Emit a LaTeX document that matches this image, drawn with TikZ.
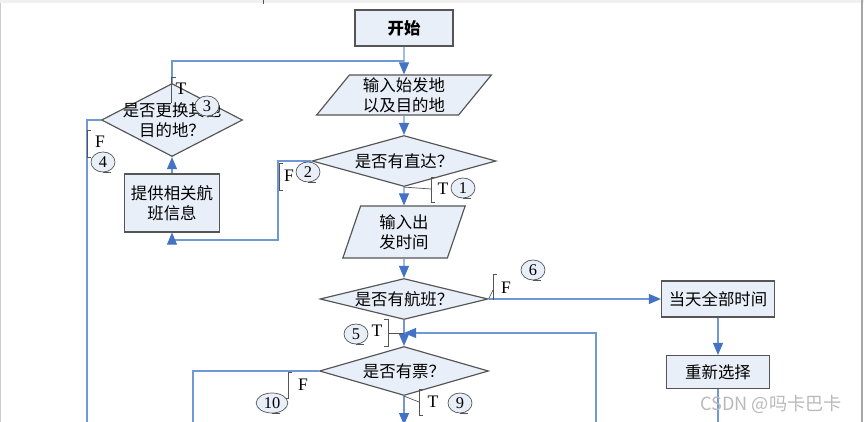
\documentclass[tikz,border=0pt]{standalone}
\usepackage{fontspec}
\setmainfont{Liberation Serif}
\newfontfamily\cjk{Noto Sans CJK SC}
\usetikzlibrary{arrows.meta,shapes.geometric,calc}
\definecolor{pale}{HTML}{E9EFF8}
\definecolor{edge}{HTML}{555555}
\definecolor{flow}{HTML}{6F98D6}
\definecolor{tip}{HTML}{4472C4}
\newcommand\numtag[3]{\node[num] (#1) at (#2) {#3}; \draw[brk] (#1.south) -- ++(8,0);}

\begin{document}
\begin{tikzpicture}[x=0.03cm, y=-0.03cm, every node/.style={font=\cjk\fontsize{14}{17}\selectfont}, box/.style={draw=edge, line width=1pt, fill=pale, align=center, inner sep=0pt}, decide/.style={box, diamond, aspect=3.5}, io/.style={box, trapezium, trapezium stretches=true}, arr/.style={flow, line width=0.9pt, -{Triangle[length=3.6mm, width=3mm, color=tip]}}, wire/.style={flow, line width=0.9pt}, brk/.style={edge, line width=0.6pt}, num/.style={ellipse, draw=edge, fill=pale, line width=0.6pt, inner sep=0pt, minimum width=0.72cm, minimum height=0.6cm, font=\rmfamily\fontsize{14}{16}\selectfont}, tf/.style={inner sep=0pt, font=\rmfamily\fontsize{15}{17}\selectfont}]
\clip (0,0) rectangle (864,422);
% page edges
\fill[gray!12] (0,0) rectangle (864,3);
\draw[gray!70, line width=1.5pt] (862,0) -- (862,422);
\draw[gray!40, line width=0.4pt] (0.5,3) -- (0.5,422);
\draw[edge, line width=0.6pt] (263,0) -- (263,4);
% main column
\node[box, minimum width=2.94cm, minimum height=1.08cm, font=\cjk\bfseries\fontsize{14}{17}\selectfont] (start) at (404,28) {开始};
\node[io, trapezium left angle=55, trapezium right angle=125, minimum width=5.25cm, minimum height=1.2cm] (route) at (404,95) {输入始发地\\以及目的地};
\node[decide, aspect=3.6, minimum width=5.52cm, minimum height=1.53cm] (direct) at (404,161) {是否有直达？};
\node[io, trapezium left angle=74, trapezium right angle=106, minimum width=3.69cm, minimum height=1.56cm] (time) at (404,232) {输入出\\发时间};
\node[decide, aspect=4.1, minimum width=5.04cm, minimum height=1.23cm] (flight) at (404,299) {是否有航班？};
\node[decide, aspect=3.45, minimum width=5.07cm, minimum height=1.47cm] (ticket) at (404,371) {是否有票？};
% right column
\node[box, minimum width=3.39cm, minimum height=1.08cm] (allday) at (718,299) {当天全部时间};
\node[box, minimum width=3.09cm, minimum height=0.99cm] (again) at (718,372) {重新选择};
% left column
\node[box, minimum width=2.85cm, minimum height=1.74cm] (info) at (172,203) {提供相关航\\班信息};
\node[decide, aspect=1.9, minimum width=4.23cm, minimum height=2.19cm, label={[align=center]center:是否更换其他\\目的地？}] (change) at (172,120) {};
% free ends and bends
\coordinate (joinA) at (404,61);
\coordinate (joinB) at (404,333);
\coordinate (bendB) at (278,240);
\coordinate (outA) at (87,430);
\coordinate (outC) at (193,430);
\coordinate (loopR) at (596,430);
\coordinate (outD) at (718,430);
\coordinate (nextStep) at (404,425);
% connectors
\draw[wire] (change.north) |- (joinA);
\draw[arr] (start) -- (route);
\draw[wire] (change.west) -| (outA);
\draw[arr] (route) -- (direct);
\draw[arr] (direct.west) -| (bendB) -| (info.south);
\draw[arr] (info) -- (change);
\draw[arr] (direct) -- (time);
\draw[arr] (time) -- (flight);
\draw[arr] (flight.east) -- (allday.west);
\draw[arr] (flight) -- (ticket);
\draw[arr] (loopR) |- (joinB);
\draw[wire] (ticket.west) -| (outC);
\draw[arr] (ticket.south) -- (nextStep);
\draw[arr] (allday) -- (again);
\draw[wire] (again.south) -- (outD);
% T / F marks
\draw[brk] (direct.south) -- (431,189);
\draw[brk] (435,177) -- (431,177) -- (431,202) -- (435,202);
\node[tf] (t1) at (443,189) {T};
\numtag{c1}{463,188}{1}
\draw[brk] (283,163) -- (279,163) -- (279,190) -- (283,190);
\node[tf] (f2) at (289,176) {F};
\numtag{c2}{308,172}{2}
\draw[brk] (176,77) -- (171,77) -- (171,103);
\node[tf] (t3) at (181,89) {T};
\numtag{c3}{207,106}{3}
\draw[brk] (91,130) -- (87,130) -- (87,157) -- (91,157);
\node[tf] (f4) at (100,142) {F};
\numtag{c4}{103,162}{4}
\draw[brk] (384,319) -- (388,319) -- (388,346) -- (384,346);
\draw[brk] (388,333) -- (joinB);
\node[tf] (t5) at (377,331) {T};
\numtag{c5}{356,334}{5}
\draw[brk] (flight.east) -- (493,290);
\draw[brk] (497,274) -- (493,274) -- (493,300);
\node[tf] (f6) at (506,288) {F};
\numtag{c6}{533,270}{6}
\draw[brk] (ticket.south) -- (419,402);
\draw[brk] (423,389) -- (419,389) -- (419,415) -- (423,415);
\node[tf] (t9) at (433,402) {T};
\numtag{c9}{460,403}{9}
\draw[brk] (292,372) -- (288,372) -- (288,398) -- (284,398);
\node[tf] (f10) at (303,385) {F};
\node[num, minimum width=0.95cm] (c10) at (272,403) {10};
\draw[brk] (c10.south) -- ++(8,0);
% watermark
\node[text=gray!55, font=\cjk\fontsize{15.5}{17}\selectfont] (mark) at (771,404) {CSDN @吗卡巴卡};
\end{tikzpicture}
\end{document}
